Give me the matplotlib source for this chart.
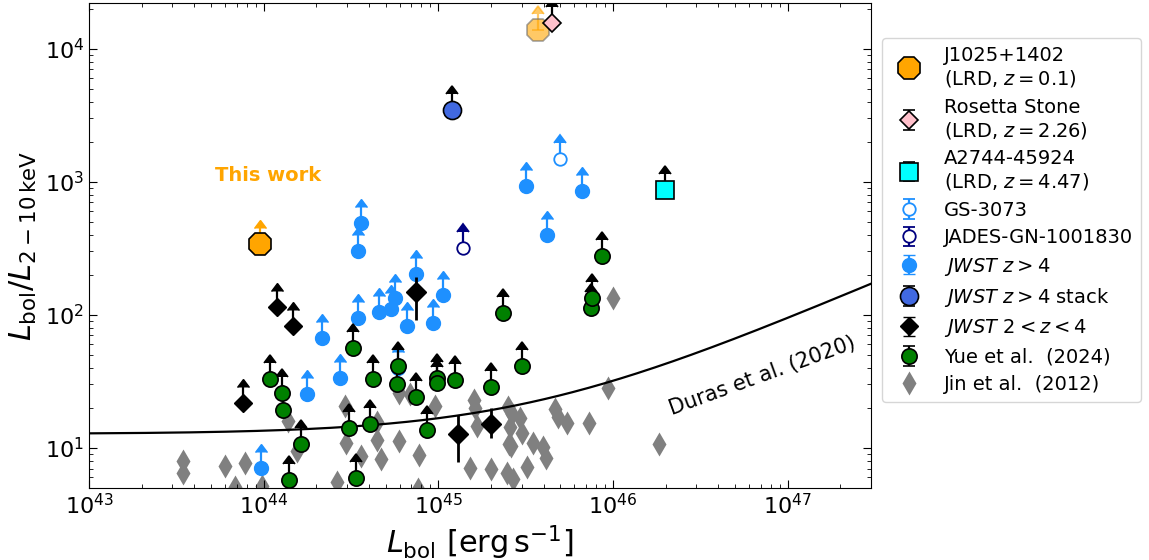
import numpy as np
import matplotlib.pyplot as plt

# J1025+1402 (this work) and the faded alternative point
j1025_lbol = [9.5e43]
j1025_ratio = [340]
j1025_alt_lbol = [3.7e45]
j1025_alt_ratio = [1.38e4]

# single LRDs
rosetta_lbol = [4.47e45]
rosetta_ratio = [1.56e4]
a2744_lbol = [1.98e46]
a2744_ratio = [867]
gs3073_lbol = [4.97e45]
gs3073_ratio = [1483]
jades_lbol = [1.38e45]
jades_ratio = [318]
stack_lbol = [1.20e45]
stack_ratio = [3460]

# JWST z>4 (lower limits)
hiz_lbol = [9.7e43, 1.77e44, 2.74e44, 2.16e44, 3.47e44, 3.61e44, 3.47e44, 4.57e44,
            5.36e44, 5.65e44, 6.61e44, 7.45e44, 9.31e44, 1.06e45, 5.88e44, 3.17e45,
            4.19e45, 6.64e45]
hiz_ratio = [7.1, 25.4, 33.5, 67, 94.6, 490, 302, 105,
             111, 134, 82, 203, 87, 141, 39.9, 929,
             398, 851]

# JWST 2<z<4: lower limits, and detections with error bars
midz_lim_lbol = [7.62e43, 1.19e44, 1.47e44]
midz_lim_ratio = [21.8, 114.6, 82.4]
midz_det_lbol = [7.45e44, 1.29e45, 2.0e45]
midz_det_ratio = [148.6, 12.7, 15.1]
midz_det_err_lo = [57, 4.9, 3.2]
midz_det_err_hi = [44, 5.0, 4.9]

# Yue et al. (2024), lower limits
yue_lbol = [1.09e44, 1.27e44, 1.29e44, 1.64e44, 1.40e44, 3.08e44, 4.06e44, 3.37e44,
            4.23e44, 3.24e44, 5.88e44, 5.80e44, 7.45e44, 9.82e44, 9.82e44, 1.25e45,
            2.0e45, 8.61e44, 2.34e45, 3.01e45, 7.46e45, 7.57e45, 8.63e45]
yue_ratio = [33.0, 25.9, 19.3, 10.7, 5.74, 14.1, 15.1, 5.94,
             33.0, 56.4, 41.3, 30.2, 24.2, 33.5, 30.7, 32.3,
             28.7, 13.6, 103, 41.3, 112, 134, 277]

# Jin et al. (2012)
jin_lbol = [3.45e43, 3.45e43, 6.0e43, 7.82e43, 6.86e43, 9.78e43, 1.38e44, 1.55e44,
            2.92e44, 2.96e44, 3.61e44, 4.45e44, 4.45e44, 4.69e44, 2.63e44, 5.95e44,
            5.95e44, 6.87e44, 7.74e44, 9.57e44, 1.60e45, 1.62e45, 1.66e45, 1.52e45,
            2.0e45, 7.64e44, 2.50e45, 2.64e45, 2.93e45, 2.57e45, 3.01e45, 3.48e45,
            3.97e45, 4.13e45, 2.54e45, 2.62e45, 3.21e45, 2.47e45, 2.67e45, 4.65e45,
            4.84e45, 5.45e45, 7.28e45, 9.36e45, 1.83e46, 9.98e45]
jin_ratio = [7.98, 6.49, 7.32, 7.71, 5.1, 5.18, 15.9, 9.5,
             20.6, 10.9, 8.7, 11.5, 15.7, 8.26, 5.55, 11.3,
             25.9, 25.4, 8.85, 20.6, 22.9, 20.0, 14.6, 7.06,
             6.95, 4.9, 20.3, 18.0, 16.8, 14.4, 12.9, 10.9,
             10.2, 8.4, 10.7, 10.4, 7.2, 6.49, 5.84, 19.6,
             17.1, 15.4, 15.4, 28.2, 10.7, 134]

# Duras et al. (2020) type-1 bolometric correction
duras_a, duras_b, duras_c = 12.76, 12.15, 18.78
L_sun = 3.826e33

arrow = 10 ** 0.12 - 1


def lolim(ax, x, y, **kw):
    # lower limits: upward arrows
    y = np.asarray(y, dtype=float)
    return ax.errorbar(x, y, yerr=y * arrow, lolims=True, linestyle='none',
                       elinewidth=1.6, capsize=4, **kw)


fig = plt.figure(figsize=(11.49, 5.6), dpi=100)
ax = fig.add_axes([0.0775, 0.1286, 0.6806, 0.866])

h_jin, = ax.plot(jin_lbol, jin_ratio, 'd', color='grey', ms=12, mec='none', zorder=1,
                 label='Jin et al.  (2012)')

lbol_grid = np.logspace(43, 47.6, 400)
kbol = duras_a * (1 + (np.log10(lbol_grid / L_sun) / duras_b) ** duras_c)
ax.plot(lbol_grid, kbol, color='black', lw=1.6, zorder=2)

h_hiz = lolim(ax, hiz_lbol, hiz_ratio, marker='o', ms=10, color='dodgerblue',
              mec='dodgerblue', zorder=3, label='$JWST\\ z>4$')

h_midz = lolim(ax, midz_lim_lbol, midz_lim_ratio, marker='D', ms=9, color='black',
               zorder=4, label='$JWST\\ 2<z<4$')
ax.errorbar(midz_det_lbol, midz_det_ratio, yerr=[midz_det_err_lo, midz_det_err_hi],
            marker='D', ms=10, color='black', linestyle='none', elinewidth=2, zorder=4)

h_yue = lolim(ax, yue_lbol, yue_ratio, marker='o', ms=11, mfc='green', mec='black',
              mew=1.2, ecolor='black', color='black', zorder=5,
              label='Yue et al.  (2024)')

h_stack = lolim(ax, stack_lbol, stack_ratio, marker='o', ms=13, mfc='royalblue',
                mec='black', mew=1.2, ecolor='black', color='black',
                zorder=6, label='$JWST\\ z>4$ stack')

h_jades = lolim(ax, jades_lbol, jades_ratio, marker='o', ms=9, mfc='white',
                mec='navy', mew=1.3, ecolor='navy', color='navy',
                zorder=6, label='JADES-GN-1001830')

h_gs = lolim(ax, gs3073_lbol, gs3073_ratio, marker='o', ms=9, mfc='white',
             mec='dodgerblue', mew=1.3, ecolor='dodgerblue', color='dodgerblue',
             zorder=6, label='GS-3073')

h_a2744 = lolim(ax, a2744_lbol, a2744_ratio, marker='s', ms=13, mfc='cyan',
                mec='black', mew=1.2, ecolor='black', color='black',
                zorder=6, label='A2744-45924\n(LRD, $z=4.47$)')

lolim(ax, j1025_alt_lbol, j1025_alt_ratio, marker='8', ms=17, mfc='orange',
      mec='dimgrey', mew=1.2, ecolor='orange', color='orange',
      alpha=0.6, zorder=6)

h_ros = lolim(ax, rosetta_lbol, rosetta_ratio, marker='D', ms=9, mfc='pink',
              mec='black', mew=1.2, ecolor='black', color='black',
              zorder=7, label='Rosetta Stone\n(LRD, $z=2.26$)')

lolim(ax, j1025_lbol, j1025_ratio, marker='none', ecolor='orange', color='orange',
      zorder=7)
h_j1025, = ax.plot(j1025_lbol, j1025_ratio, '8', ms=17, mfc='orange', mec='black',
                   mew=1.2, zorder=8, label='J1025+1402\n(LRD, $z=0.1$)')

ax.text(1.06e44, 1120, 'This work', color='orange', fontsize=14, fontweight='bold',
        ha='center', va='center')
ax.text(7.2e46, 34.7, 'Duras et al. (2020)', fontsize=15, rotation=20,
        ha='center', va='center')

ax.set_xscale('log')
ax.set_yscale('log')
ax.set_xlim(1e43, 3e47)
ax.set_ylim(5, 2.2e4)
ax.tick_params(which='both', direction='in', top=True, right=True, labelsize=16)
ax.tick_params(which='major', length=6)
ax.tick_params(which='minor', length=3)
ax.set_xlabel('$L_{\\rm bol}\\ [{\\rm erg\\,s^{-1}}]$', fontsize=22)
ax.set_ylabel('$L_{\\rm bol}/L_{2-10\\,{\\rm keV}}$', fontsize=22)

handles = [h_j1025, h_ros, h_a2744, h_gs, h_jades, h_hiz, h_stack, h_midz, h_yue,
           h_jin]
fig.legend(handles=handles, loc='upper left', bbox_to_anchor=(0.7676, 0.932),
           borderaxespad=0, fontsize=14, labelspacing=0.43)

fig.savefig('out.png', dpi=100)
